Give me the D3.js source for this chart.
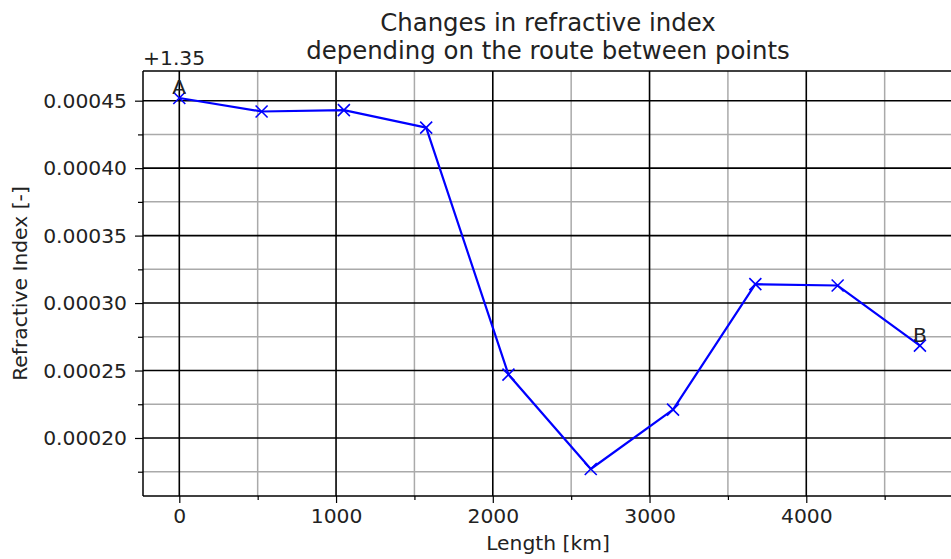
<!DOCTYPE html>
<html><head><meta charset="utf-8">
<script src="https://cdn.jsdelivr.net/npm/d3@7"></script>
<style>body{margin:0;background:#fff}svg{display:block}text{font-family:"DejaVu Sans",sans-serif;fill:#222}</style>
</head><body><div id="chart"></div>
<script>
const lengthKm = [0, 525, 1050, 1575, 2100, 2625, 3150, 3675, 4200, 4725];
const refractiveIndex = [1.350452, 1.350442, 1.350443, 1.350430, 1.350247, 1.350177, 1.350221, 1.350314, 1.350313, 1.3502685];
const pointLabels = ["A", "", "", "", "", "", "", "", "", "B"];
const offset = 1.35;
const xMajorTicks = [0, 1000, 2000, 3000, 4000];
const xMinorTicks = [500, 1500, 2500, 3500, 4500];
const yMajorTicks = [0.00020, 0.00025, 0.00030, 0.00035, 0.00040, 0.00045];
const yMinorTicks = [0.000175, 0.000225, 0.000275, 0.000325, 0.000375, 0.000425];
const titleLines = ["Changes in refractive index", "depending on the route between points"];

const W = 951, H = 559;
const L = 143, R = 953, T = 71, B = 496;
const FS = 20.3, TFS = 24.4;
const svg = d3.select("#chart").append("svg").attr("width", W).attr("height", H);

const x = d3.scaleLinear().domain([-231.6, 4936]).range([L, R]);
const y = d3.scaleLinear().domain([0.000157, 0.000472]).range([B, T]);

const g = svg.append("g");
g.selectAll(".xmin").data(xMinorTicks).join("line")
  .attr("x1", d => x(d)).attr("x2", d => x(d)).attr("y1", T).attr("y2", B)
  .attr("stroke", "#aaaaaa").attr("stroke-width", 1.5);
g.selectAll(".ymin").data(yMinorTicks).join("line")
  .attr("y1", d => y(d)).attr("y2", d => y(d)).attr("x1", L).attr("x2", R)
  .attr("stroke", "#aaaaaa").attr("stroke-width", 1.5);
g.selectAll(".xmaj").data(xMajorTicks).join("line")
  .attr("x1", d => x(d)).attr("x2", d => x(d)).attr("y1", T).attr("y2", B)
  .attr("stroke", "#000").attr("stroke-width", 1.6);
g.selectAll(".ymaj").data(yMajorTicks).join("line")
  .attr("y1", d => y(d)).attr("y2", d => y(d)).attr("x1", L).attr("x2", R)
  .attr("stroke", "#000").attr("stroke-width", 1.6);

const xAxis = d3.axisBottom(x).tickValues(xMajorTicks).tickSize(7).tickPadding(6).tickFormat(d3.format("d"));
const xAxisMinor = d3.axisBottom(x).tickValues(xMinorTicks).tickSize(4).tickFormat("");
const yAxis = d3.axisLeft(y).tickValues(yMajorTicks).tickSize(8).tickPadding(8).tickFormat(d3.format(".5f"));
const yAxisMinor = d3.axisLeft(y).tickValues(yMinorTicks).tickSize(5).tickFormat("");

function style(sel) {
  sel.select(".domain").remove();
  sel.selectAll("line").attr("stroke", "#000").attr("stroke-width", 1.2);
  sel.selectAll("text").style("font-size", FS + "px").attr("fill", "#222");
}
svg.append("g").attr("transform", `translate(0,${B})`).call(xAxis).call(style);
svg.append("g").attr("transform", `translate(0,${B})`).call(xAxisMinor).call(style);
svg.append("g").attr("transform", `translate(${L},0)`).call(yAxis).call(style);
svg.append("g").attr("transform", `translate(${L},0)`).call(yAxisMinor).call(style);

svg.append("line").attr("x1", L).attr("x2", L).attr("y1", T).attr("y2", B).attr("stroke", "#000").attr("stroke-width", 1.5);
svg.append("line").attr("x1", L).attr("x2", R).attr("y1", B).attr("y2", B).attr("stroke", "#000").attr("stroke-width", 1.5);
svg.append("line").attr("x1", L).attr("x2", R).attr("y1", T).attr("y2", T).attr("stroke", "#000").attr("stroke-width", 1.5);

const data = lengthKm.map((d, i) => ({ x: d, y: refractiveIndex[i] - offset, label: pointLabels[i] }));
const line = d3.line().x(d => x(d.x)).y(d => y(d.y));
svg.append("path").datum(data).attr("d", line).attr("fill", "none")
  .attr("stroke", "#0000ff").attr("stroke-width", 2.2).attr("stroke-linejoin", "round");
const s = 6;
svg.selectAll(".mk").data(data).join("path")
  .attr("d", d => `M${x(d.x)-s},${y(d.y)-s}L${x(d.x)+s},${y(d.y)+s}M${x(d.x)-s},${y(d.y)+s}L${x(d.x)+s},${y(d.y)-s}`)
  .attr("stroke", "#0000ff").attr("stroke-width", 1.6);
svg.selectAll(".lbl").data(data.filter(d => d.label)).join("text")
  .attr("x", d => x(d.x)).attr("y", d => y(d.y) - 4)
  .attr("text-anchor", "middle").style("font-size", FS + "px").text(d => d.label);

svg.append("text").attr("x", L).attr("y", 65).style("font-size", FS + "px").text("+1.35");

svg.append("text").attr("x", (L + R) / 2).attr("y", 31).attr("text-anchor", "middle")
  .style("font-size", TFS + "px").text(titleLines[0]);
svg.append("text").attr("x", (L + R) / 2).attr("y", 59).attr("text-anchor", "middle")
  .style("font-size", TFS + "px").text(titleLines[1]);

svg.append("text").attr("x", (L + R) / 2).attr("y", 550).attr("text-anchor", "middle")
  .style("font-size", FS + "px").text("Length [km]");
svg.append("text").attr("transform", `translate(27,${(T + B) / 2}) rotate(-90)`).attr("text-anchor", "middle")
  .style("font-size", FS + "px").text("Refractive Index [-]");
</script></body></html>
